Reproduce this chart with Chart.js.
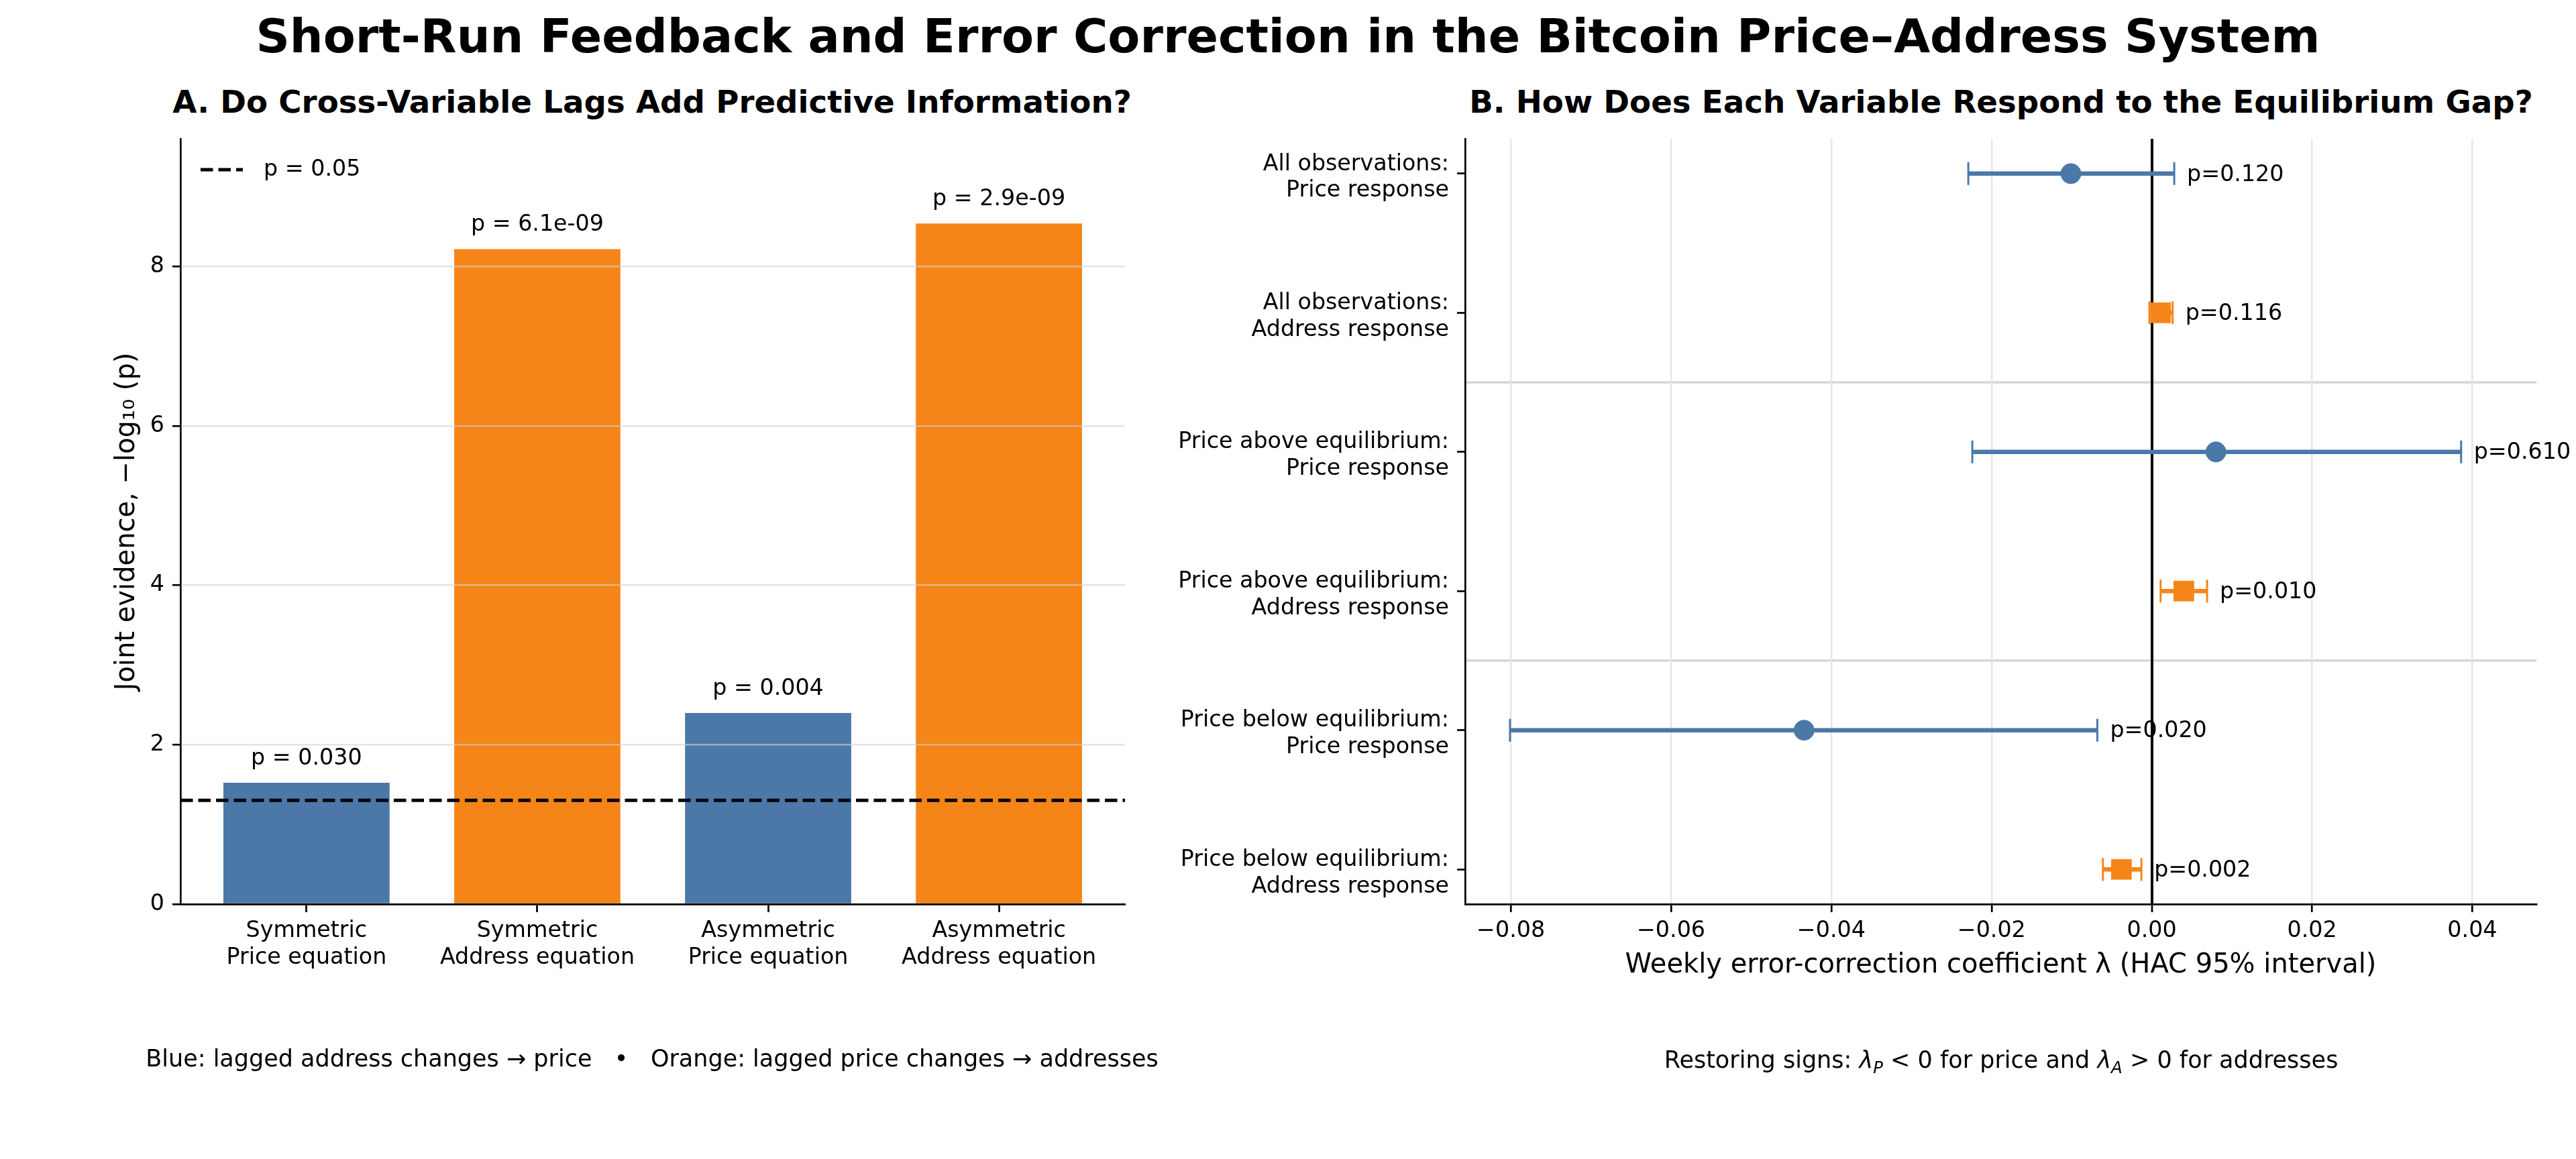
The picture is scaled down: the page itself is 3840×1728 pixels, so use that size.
<!DOCTYPE html>
<html>
<head>
<meta charset="utf-8">
<script src="https://cdn.jsdelivr.net/npm/chart.js@4.4.1/dist/chart.umd.min.js"></script>
<style>
  html, body { margin: 0; padding: 0; background: #fff; }
  body { width: 3840px; height: 1728px; position: relative; overflow: hidden;
         font-family: 'DejaVu Sans', sans-serif; color: #000; }
  .panel { position: absolute; top: 0; height: 1728px; }
  .txt { position: absolute; transform: translate(-50%, -50%); white-space: pre; line-height: 1.2; }
  .main-title { font-size: 70px; font-weight: bold; }
  .panel-title { font-size: 46.7px; font-weight: bold; }
  .caption { font-size: 35px; }
  sub { font-size: 70%; line-height: 0; }
</style>
</head>
<body>
<div class="txt main-title" style="left:1920px; top:54px;">Short-Run Feedback and Error Correction in the Bitcoin Price–Address System</div>
<div class="txt panel-title" style="left:972px; top:152px;">A. Do Cross-Variable Lags Add Predictive Information?</div>
<div class="txt panel-title" style="left:2983px; top:152px;">B. How Does Each Variable Respond to the Equilibrium Gap?</div>

<div class="panel" style="left:0; width:1920px;"><canvas id="chartA"></canvas></div>
<div class="panel" style="left:1700px; width:2140px;"><canvas id="chartB"></canvas></div>

<div class="txt caption" style="left:972px; top:1578px;">Blue: lagged address changes → price   •   Orange: lagged price changes → addresses</div>
<div class="txt caption" style="left:2983px; top:1580px;">Restoring signs: <i>λ</i><sub><i>P</i></sub> &lt; 0 for price and <i>λ</i><sub><i>A</i></sub> &gt; 0 for addresses</div>

<script>
const FONT = "'DejaVu Sans', sans-serif";
const BLUE = '#4C78A8';
const ORANGE = '#F58518';

// panel A: joint Granger tests
const equationLabels = [
    ['Symmetric', 'Price equation'],
    ['Symmetric', 'Address equation'],
    ['Asymmetric', 'Price equation'],
    ['Asymmetric', 'Address equation']
];
const jointEvidence = [1.523, 8.215, 2.398, 8.538];
const jointPLabels = ['p = 0.030', 'p = 6.1e-09', 'p = 0.004', 'p = 2.9e-09'];
const equationColors = [BLUE, ORANGE, BLUE, ORANGE];
const evidenceTicks = [0, 2, 4, 6, 8];
const pThreshold = 1.301; // -log10(0.05)

// panel B: error-correction coefficients
const responseLabels = [
    ['All observations:', 'Price response'],
    ['All observations:', 'Address response'],
    ['Price above equilibrium:', 'Price response'],
    ['Price above equilibrium:', 'Address response'],
    ['Price below equilibrium:', 'Price response'],
    ['Price below equilibrium:', 'Address response']
];
const responseType = ['price', 'address', 'price', 'address', 'price', 'address'];
const lambdaEst = [-0.0101, 0.0011, 0.0080, 0.0040, -0.0434, -0.0038];
const lambdaLow = [-0.0229, -0.0003, -0.0224, 0.0011, -0.0801, -0.0061];
const lambdaHigh = [0.0028, 0.0026, 0.0386, 0.0069, -0.0068, -0.0013];
const lambdaPLabels = ['p=0.120', 'p=0.116', 'p=0.610', 'p=0.010', 'p=0.020', 'p=0.002'];
const lambdaTicks = [-0.08, -0.06, -0.04, -0.02, 0, 0.02, 0.04];
const regimeBreaks = [1.5, 3.5];

Chart.defaults.font.family = FONT;
Chart.defaults.color = '#000';

const tickFont = { size: 33.3, family: FONT };

const thresholdPlugin = {
    id: 'threshold',
    afterDatasetsDraw(chart) {
        const { ctx, chartArea, scales: { y } } = chart;
        const py = y.getPixelForValue(pThreshold);
        ctx.save();
        ctx.strokeStyle = '#000';
        ctx.lineWidth = 5;
        ctx.setLineDash([18.5, 8]);
        ctx.beginPath();
        ctx.moveTo(chartArea.left, py);
        ctx.lineTo(chartArea.right, py);
        ctx.stroke();
        // legend entry, top-left inside the axes
        const ly = chartArea.top + 46;
        ctx.beginPath();
        ctx.moveTo(chartArea.left + 30, ly);
        ctx.lineTo(chartArea.left + 93, ly);
        ctx.stroke();
        ctx.setLineDash([]);
        ctx.fillStyle = '#000';
        ctx.font = '33.3px ' + FONT;
        ctx.textBaseline = 'middle';
        ctx.textAlign = 'left';
        ctx.fillText('p = 0.05', chartArea.left + 124, ly);
        // p-values above the bars
        ctx.textAlign = 'center';
        chart.getDatasetMeta(0).data.forEach((bar, i) => {
            ctx.fillText(jointPLabels[i], bar.x, bar.y - 36);
        });
        ctx.restore();
    }
};

new Chart(document.getElementById('chartA'), {
    type: 'bar',
    data: {
        datasets: [{
            data: jointEvidence.map((v, i) => ({ x: i, y: v })),
            backgroundColor: equationColors,
            borderWidth: 0,
            categoryPercentage: 1,
            barPercentage: 0.72
        }]
    },
    options: {
        responsive: true,
        maintainAspectRatio: false,
        devicePixelRatio: 1,
        animation: false,
        events: [],
        layout: { autoPadding: false, padding: { left: 0, right: 243, top: 207, bottom: 0 } },
        scales: {
            x: {
                type: 'linear',
                min: -0.546,
                max: 3.546,
                offset: false,
                afterBuildTicks: (s) => { s.ticks = equationLabels.map((_, i) => ({ value: i })); },
                afterFit: (s) => { s.height = 380; },
                ticks: {
                    autoSkip: false,
                    maxRotation: 0,
                    padding: 8,
                    font: tickFont,
                    callback: (v) => equationLabels[v]
                },
                grid: {
                    offset: false,
                    drawOnChartArea: false,
                    tickLength: 12,
                    tickWidth: 2.7,
                    tickColor: '#000'
                },
                border: { display: true, color: '#000', width: 2.7, z: 2 }
            },
            y: {
                type: 'linear',
                min: 0,
                max: 9.6,
                afterBuildTicks: (s) => { s.ticks = evidenceTicks.map(v => ({ value: v })); },
                afterFit: (s) => { s.width = 269; },
                ticks: { padding: 12, font: tickFont },
                grid: {
                    color: (c) => c.tick && c.tick.value === 0 ? 'rgba(0,0,0,0)' : 'rgba(210,210,210,0.6)',
                    lineWidth: 2.5,
                    tickLength: 12,
                    tickWidth: 2.7,
                    tickColor: '#000',
                    z: 1
                },
                border: { display: true, color: '#000', width: 2.7, z: 2 },
                title: {
                    display: true,
                    text: 'Joint evidence, −log₁₀ (p)',
                    font: { size: 40, family: FONT },
                    padding: { top: 166, bottom: 0 }
                }
            }
        },
        plugins: {
            legend: { display: false },
            tooltip: { enabled: false },
            title: { display: false }
        }
    },
    plugins: [thresholdPlugin]
});

const errorBarPlugin = {
    id: 'errorBars',
    beforeDraw(chart) {
        const { ctx, chartArea, scales: { y } } = chart;
        ctx.save();
        ctx.strokeStyle = '#d4d4d4';
        ctx.lineWidth = 3.3;
        regimeBreaks.forEach(b => {
            const py = y.getPixelForValue(b);
            ctx.beginPath();
            ctx.moveTo(chartArea.left, py);
            ctx.lineTo(chartArea.right, py);
            ctx.stroke();
        });
        ctx.restore();
    },
    beforeDatasetsDraw(chart) {
        const { ctx, scales: { x, y } } = chart;
        ctx.save();
        lambdaEst.forEach((_, i) => {
            const color = responseType[i] === 'price' ? BLUE : ORANGE;
            const py = y.getPixelForValue(i);
            const x0 = x.getPixelForValue(lambdaLow[i]);
            const x1 = x.getPixelForValue(lambdaHigh[i]);
            ctx.strokeStyle = color;
            ctx.lineWidth = 6.5;
            ctx.beginPath();
            ctx.moveTo(x0, py);
            ctx.lineTo(x1, py);
            ctx.stroke();
            ctx.lineWidth = 3;
            ctx.beginPath();
            ctx.moveTo(x0, py - 17);
            ctx.lineTo(x0, py + 17);
            ctx.moveTo(x1, py - 17);
            ctx.lineTo(x1, py + 17);
            ctx.stroke();
        });
        ctx.restore();
    },
    afterDatasetsDraw(chart) {
        const { ctx, scales: { x, y } } = chart;
        ctx.save();
        ctx.fillStyle = '#000';
        ctx.font = '33.3px ' + FONT;
        ctx.textAlign = 'left';
        ctx.textBaseline = 'middle';
        lambdaPLabels.forEach((t, i) => {
            ctx.fillText(t, x.getPixelForValue(lambdaHigh[i]) + 19, y.getPixelForValue(i) + 2);
        });
        ctx.restore();
    }
};

const rowsOf = (type) => lambdaEst
    .map((v, i) => ({ x: v, y: i }))
    .filter((_, i) => responseType[i] === type);

new Chart(document.getElementById('chartB'), {
    type: 'scatter',
    data: {
        datasets: [{
            label: 'Price response',
            data: rowsOf('price'),
            pointStyle: 'circle',
            pointRadius: 15,
            backgroundColor: BLUE,
            borderColor: BLUE,
            borderWidth: 1
        }, {
            label: 'Address response',
            data: rowsOf('address'),
            pointStyle: 'rect',
            pointRadius: 21,
            backgroundColor: ORANGE,
            borderColor: ORANGE,
            borderWidth: 1
        }]
    },
    options: {
        responsive: true,
        maintainAspectRatio: false,
        devicePixelRatio: 1,
        animation: false,
        events: [],
        layout: { autoPadding: false, padding: { left: 0, right: 59, top: 207, bottom: 0 } },
        scales: {
            x: {
                type: 'linear',
                min: -0.0857,
                max: 0.048,
                afterBuildTicks: (s) => { s.ticks = lambdaTicks.map(v => ({ value: v })); },
                afterFit: (s) => { s.height = 380; },
                ticks: {
                    autoSkip: false,
                    maxRotation: 0,
                    padding: 8,
                    font: tickFont,
                    callback: (v) => (v < 0 ? '−' : '') + Math.abs(v).toFixed(2)
                },
                grid: {
                    color: (c) => c.tick && c.tick.value === 0 ? '#000' : '#e5e5e5',
                    lineWidth: (c) => c.tick && c.tick.value === 0 ? 4 : 2.5,
                    tickLength: 12,
                    tickWidth: 2.7,
                    tickColor: '#000'
                },
                border: { display: true, color: '#000', width: 2.7, z: 2 },
                title: {
                    display: true,
                    text: 'Weekly error-correction coefficient λ (HAC 95% interval)',
                    font: { size: 40, family: FONT },
                    padding: { top: 0, bottom: 264 }
                }
            },
            y: {
                type: 'linear',
                reverse: true,
                min: -0.25,
                max: 5.25,
                afterBuildTicks: (s) => { s.ticks = responseLabels.map((_, i) => ({ value: i })); },
                afterFit: (s) => { s.width = 484; },
                ticks: {
                    autoSkip: false,
                    padding: 12,
                    labelOffset: 6,
                    font: tickFont,
                    callback: (v) => responseLabels[v]
                },
                grid: {
                    drawOnChartArea: false,
                    tickLength: 12,
                    tickWidth: 2.7,
                    tickColor: '#000'
                },
                border: { display: true, color: '#000', width: 2.7, z: 2 }
            }
        },
        plugins: {
            legend: { display: false },
            tooltip: { enabled: false },
            title: { display: false }
        }
    },
    plugins: [errorBarPlugin]
});
</script>
</body>
</html>
